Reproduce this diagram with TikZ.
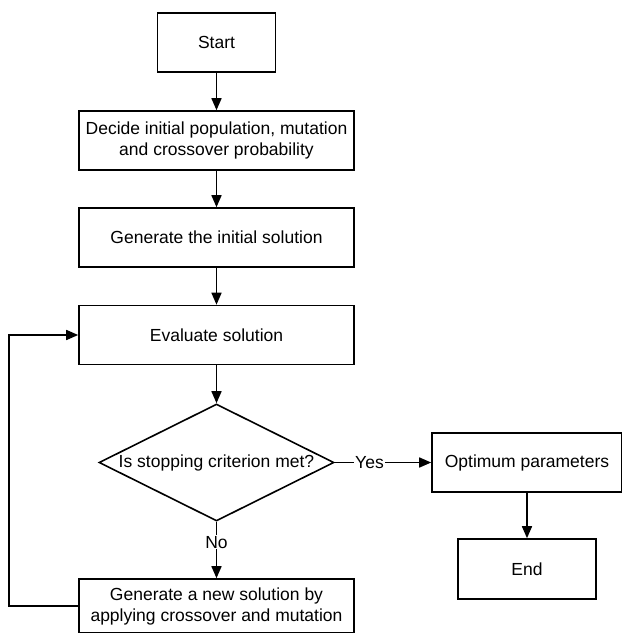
\documentclass[tikz,border=0pt]{standalone}
\usepackage{fontspec}
\setmainfont{Liberation Sans}
\usetikzlibrary{shapes.geometric,arrows.meta}

\begin{document}
\begin{tikzpicture}[x=1pt, y=-1pt, line width=1.6pt, font=\fontsize{17.5}{21}\selectfont,
    box/.style={draw, rectangle, align=center, inner sep=2pt, minimum width=275pt, minimum height=59pt},
    flow/.style={-{Triangle[length=12pt,width=10pt]}}]
    \useasboundingbox (0,0) rectangle (622,633);
    \node[box, minimum width=118pt] (start) at (216.5,42.5) {Start};
    \node[box] (init) at (216.5,140.5) {Decide initial population, mutation\\and crossover probability};
    \node[box] (gen) at (216.5,237.5) {Generate the initial solution};
    \node[box] (eval) at (216.5,335) {Evaluate solution};
    \node[draw, diamond, aspect=2, inner sep=0pt, minimum width=235pt, minimum height=117pt] (stop) at (216.5,462.5) {Is stopping criterion met?};
    \node[box, minimum height=54pt] (newsol) at (216.5,606) {Generate a new solution by\\applying crossover and mutation};
    \node[box, minimum width=190pt] (opt) at (527,462.5) {Optimum parameters};
    \node[box, minimum width=138pt, minimum height=60pt] (end) at (527,569) {End};
    % main chain
    \draw[flow] (start) -- (init);
    \draw[flow] (init) -- (gen);
    \draw[flow] (gen) -- (eval);
    \draw[flow] (eval) -- (stop);
    \draw[flow] (stop.east) -- node[pos=0.36, fill=white, inner sep=1pt] {Yes} (opt.west);
    \draw[flow] (stop.south) -- node[pos=0.36, fill=white, inner sep=1pt] {No} (newsol.north);
    \draw[flow] (opt) -- (end);
    \draw[flow] (newsol.west) -- ++(-69,0) |- (eval.west); % loop back
\end{tikzpicture}
\end{document}
